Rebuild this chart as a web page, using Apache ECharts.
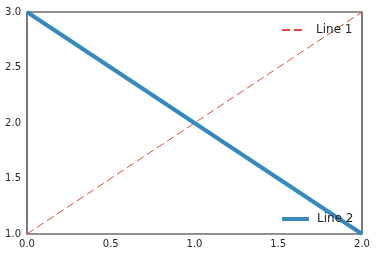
<!DOCTYPE html>
<html><head><meta charset="utf-8">
<script src="https://cdn.jsdelivr.net/npm/echarts@6/dist/echarts.min.js"></script>
<style>html,body{margin:0;padding:0;background:#fff}#c{width:377px;height:256px}</style>
</head><body><div id="c"></div>
<script>
var xValues = [0, 2];
var line1 = [1, 3];
var line2 = [3, 1];
var xTicks = [0.0, 0.5, 1.0, 1.5, 2.0];
var yTicks = [1.0, 1.5, 2.0, 2.5, 3.0];

var chart = echarts.init(document.getElementById('c'), null, {renderer: 'canvas'});
var fmt = function (v) { return v.toFixed(1); };
chart.setOption({
  animation: false,
  backgroundColor: '#fff',
  grid: {left: 27, right: 15, top: 12, bottom: 22, show: true, borderColor: '#222', borderWidth: 1.2, containLabel: false},
  xAxis: {
    type: 'value', min: xTicks[0], max: xTicks[xTicks.length - 1], interval: 0.5,
    axisLine: {show: false}, axisTick: {show: false}, splitLine: {show: false},
    axisLabel: {formatter: fmt, color: '#262626', fontSize: 10, fontFamily: 'DejaVu Sans', margin: 5}
  },
  yAxis: {
    type: 'value', min: yTicks[0], max: yTicks[yTicks.length - 1], interval: 0.5,
    axisLine: {show: false}, axisTick: {show: false}, splitLine: {show: false},
    axisLabel: {formatter: fmt, color: '#262626', fontSize: 10, fontFamily: 'DejaVu Sans', margin: 6}
  },
  legend: [
    {data: ['Line 1'], left: 276, top: 19, itemWidth: 20, itemHeight: 10,
     itemStyle: {opacity: 0},
     textStyle: {fontSize: 12, fontFamily: 'DejaVu Sans', color: '#262626', padding: [0, 0, 0, 9]}},
    {data: ['Line 2'], left: 275, top: 208, itemWidth: 27, itemHeight: 10,
     itemStyle: {opacity: 0}, lineStyle: {width: 4},
     textStyle: {fontSize: 12, fontFamily: 'DejaVu Sans', color: '#262626', padding: [0, 0, 0, 3]}}
  ],
  series: [
    {name: 'Line 1', type: 'line', data: xValues.map(function (x, i) { return [x, line1[i]]; }),
     showSymbol: false, symbol: 'none', color: '#E24A33',
     lineStyle: {width: 1, type: [8, 4], color: '#E24A33'}},
    {name: 'Line 2', type: 'line', data: xValues.map(function (x, i) { return [x, line2[i]]; }),
     showSymbol: false, symbol: 'none', color: '#348ABD',
     lineStyle: {width: 4, color: '#348ABD'}}
  ]
});
</script></body></html>
